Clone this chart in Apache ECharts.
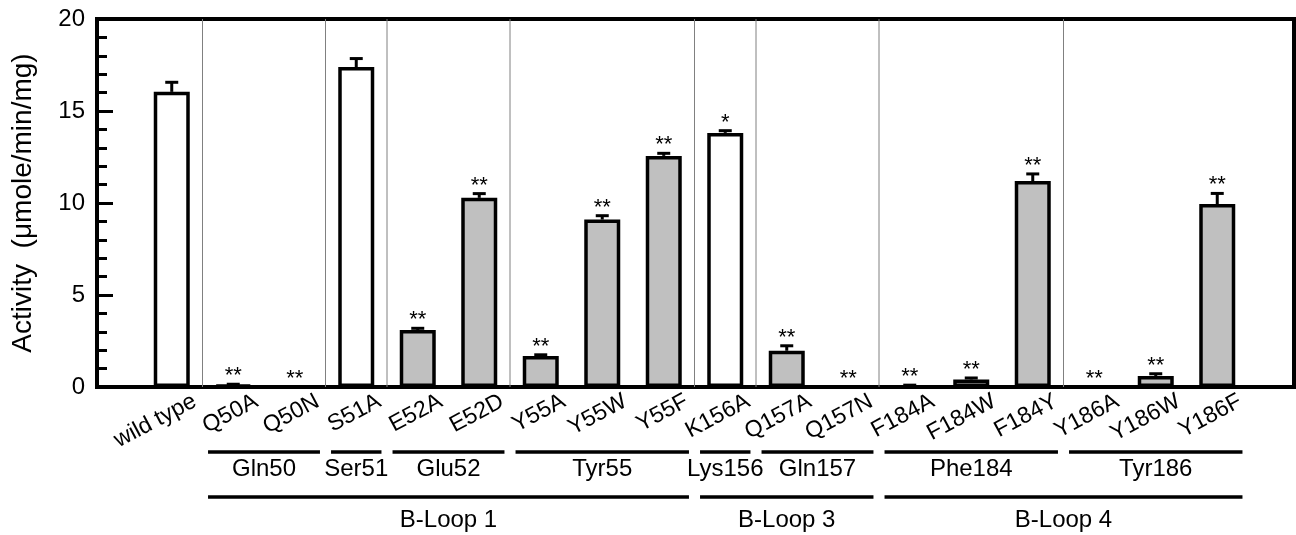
<!DOCTYPE html>
<html>
<head>
<meta charset="utf-8">
<title>Activity of B-loop mutants</title>
<script src="https://cdn.jsdelivr.net/npm/echarts@6/dist/echarts.min.js"></script>
<style>
html, body { margin: 0; padding: 0; background: #fff; }
#chart { width: 1296px; height: 535px; }
</style>
</head>
<body>
<div id="chart"></div>
<script>
// 突变体名称与活性 (µmole/min/mg)
var categories = ['wild type', 'Q50A', 'Q50N', 'S51A', 'E52A', 'E52D', 'Y55A', 'Y55W', 'Y55F',
    'K156A', 'Q157A', 'Q157N', 'F184A', 'F184W', 'F184Y', 'Y186A', 'Y186W', 'Y186F'];
var activity = [16.04, 0.10, 0, 17.39, 3.10, 10.28, 1.68, 9.10, 12.56,
    13.81, 1.97, 0, 0, 0.41, 11.19, 0, 0.60, 9.94];
var errors = [0.52, 0.05, 0, 0.46, 0.09, 0.23, 0.07, 0.21, 0.14,
    0.12, 0.27, 0, 0.10, 0.08, 0.39, 0, 0.12, 0.58];
var marks = ['', '**', '**', '', '**', '**', '**', '**', '**',
    '*', '**', '**', '**', '**', '**', '**', '**', '**'];
var yTicks = [0, 5, 10, 15, 20];

// 残基分组, 首尾为类目序号
var residueNames = ['Gln50', 'Ser51', 'Glu52', 'Tyr55', 'Lys156', 'Gln157', 'Phe184', 'Tyr186'];
var residueFrom = [1, 3, 4, 6, 9, 10, 12, 15];
var residueTo = [2, 3, 5, 8, 9, 11, 14, 17];
var loopNames = ['B-Loop 1', 'B-Loop 3', 'B-Loop 4'];
var loopFrom = [1, 9, 12];
var loopTo = [8, 11, 17];

var openBars = ['wild type', 'S51A', 'K156A'];//白色柱子
var FONT = '"Liberation Sans", Arial, Helvetica, sans-serif';
var yMin = yTicks[0], yMax = yTicks[yTicks.length - 1], yStep = yTicks[1] - yTicks[0];

function renderError(params, api) {
    var i = api.value(0);
    var v = api.value(1), e = api.value(2);
    var base = api.coord([i, v]);
    var top = api.coord([i, v + e]);
    var children = [];
    if (e > 0) {
        children.push({type: 'line', shape: {x1: base[0], y1: base[1], x2: top[0], y2: top[1]},
            style: {stroke: '#000', lineWidth: 3}});
        children.push({type: 'line', shape: {x1: top[0] - 6.5, y1: top[1], x2: top[0] + 6.5, y2: top[1]},
            style: {stroke: '#000', lineWidth: 3}});
    }
    children.push({type: 'text', x: top[0], y: top[1] - 8,
        style: {text: marks[params.dataIndex], fill: '#000', font: '22px ' + FONT,
            align: 'center', verticalAlign: 'middle'}});
    return {type: 'group', children: children};
}

// 分组之间的灰色竖线 (画在类目的左边界)
function renderSeparator(params, api) {
    var half = api.size([1, 0])[0] / 2;
    var p0 = api.coord([api.value(0), yMin]);
    var p1 = api.coord([api.value(0), yMax]);
    return {type: 'line', shape: {x1: p0[0] - half, y1: p0[1], x2: p1[0] - half, y2: p1[1]},
        style: {stroke: '#808080', lineWidth: 1}};
}

// 分组横线 + 文字
function makeBracket(names, lineDrop, textDrop) {
    return function (params, api) {
        var a = api.coord([api.value(0), 0]);
        var b = api.coord([api.value(1), 0]);
        var half = api.size([1, 0])[0] * 0.41;
        var y = a[1] + lineDrop;
        return {type: 'group', children: [
            {type: 'line', shape: {x1: a[0] - half, y1: y, x2: b[0] + half, y2: y},
                style: {stroke: '#000', lineWidth: 3.5}},
            {type: 'text', x: (a[0] + b[0]) / 2, y: y + textDrop,
                style: {text: names[params.dataIndex], fill: '#000', font: '24px ' + FONT,
                    align: 'center', verticalAlign: 'middle'}}
        ]};
    };
}

var myChart = echarts.init(document.getElementById('chart'));

var option = {
    animation: false,
    textStyle: {fontFamily: FONT, color: '#000'},
    grid: [
        {left: 97, right: 2, top: 19, bottom: 148, show: true, borderColor: '#000', borderWidth: 4,
            containLabel: false, outerBoundsMode: 'none'},//外框
        {left: 141, right: 48, top: 19, bottom: 148, containLabel: false, outerBoundsMode: 'none'},//柱子
        {left: 164, right: 25, top: 19, bottom: 148, containLabel: false, outerBoundsMode: 'none'}//横轴文字
    ],
    xAxis: [
        {gridIndex: 0, type: 'value', min: 0, max: 1, show: false},
        {
            gridIndex: 1, type: 'category', data: categories,
            axisLine: {show: false}, axisTick: {show: false}, axisLabel: {show: false},
            splitLine: {show: false}
        },
        {
            gridIndex: 2, type: 'category', data: categories,
            axisLine: {show: false}, axisTick: {show: false}, splitLine: {show: false},
            axisLabel: {interval: 0, rotate: 28, margin: 13, fontSize: 23, color: '#000', fontFamily: FONT}
        }
    ],
    yAxis: [
        {
            gridIndex: 0, type: 'value', min: yMin, max: yMax, interval: yStep,
            name: 'Activity  (μmole/min/mg)', nameLocation: 'middle', nameGap: 60,
            nameTextStyle: {fontSize: 28, color: '#000', fontFamily: FONT},
            axisLine: {show: true, lineStyle: {color: '#000', width: 4}},
            axisTick: {show: true, inside: true, length: 16, lineStyle: {color: '#000', width: 3}},
            minorTick: {show: true, splitNumber: 5, length: 10, lineStyle: {color: '#000', width: 3}},
            axisLabel: {fontSize: 24, color: '#000', margin: 12, fontFamily: FONT},
            splitLine: {show: false}
        },
        {gridIndex: 1, type: 'value', min: yMin, max: yMax, show: false},
        {gridIndex: 2, type: 'value', min: yMin, max: yMax, show: false}
    ],
    series: [
        {
            type: 'custom', xAxisIndex: 1, yAxisIndex: 1, clip: false, silent: true, z: 1,
            renderItem: renderSeparator,
            encode: {x: 0, y: 1},
            data: residueFrom.map(function (s) { return [s, 0]; })
        },
        {
            type: 'bar', xAxisIndex: 1, yAxisIndex: 1, barWidth: 36,
            data: categories.map(function (c, i) {
                return {value: activity[i],
                    itemStyle: {color: openBars.indexOf(c) >= 0 ? '#ffffff' : '#c0c0c0'}};
            }),
            itemStyle: {borderColor: '#000', borderWidth: 3.5}
        },
        {
            type: 'custom', xAxisIndex: 1, yAxisIndex: 1, clip: false, silent: true, z: 5,
            renderItem: renderError,
            encode: {x: 0, y: 1},
            data: categories.map(function (c, i) { return [i, activity[i], errors[i]]; })
        },
        {
            type: 'custom', xAxisIndex: 1, yAxisIndex: 1, clip: false, silent: true,
            renderItem: makeBracket(residueNames, 65, 17),
            encode: {x: [0, 1], y: 2},
            data: residueNames.map(function (n, i) { return [residueFrom[i], residueTo[i], 0]; })
        },
        {
            type: 'custom', xAxisIndex: 1, yAxisIndex: 1, clip: false, silent: true,
            renderItem: makeBracket(loopNames, 110, 23),
            encode: {x: [0, 1], y: 2},
            data: loopNames.map(function (n, i) { return [loopFrom[i], loopTo[i], 0]; })
        }
    ]
};

if (option && typeof option === "object") {
    myChart.setOption(option, true);
}
</script>
</body>
</html>
